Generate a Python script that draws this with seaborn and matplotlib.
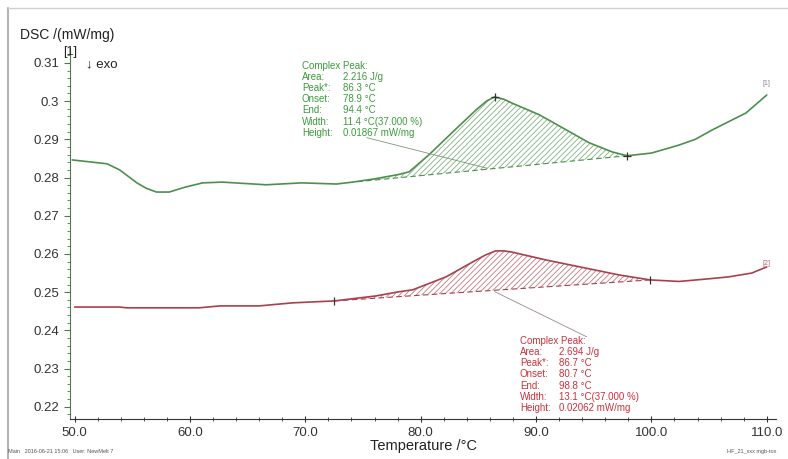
import numpy as np
import pandas as pd
import seaborn as sns
import matplotlib.pyplot as plt
from matplotlib.ticker import MultipleLocator, FuncFormatter
from matplotlib.lines import Line2D

# run [1] (green)
temp_1 = [49.8, 52.8, 53.9, 55.4, 56.2, 57.1, 58.2, 59.6, 61.1, 62.8, 66.6, 69.7,
          72.7, 74.1, 76.1, 78.1, 79.0, 80.7, 82.7, 84.8, 85.7, 86.4, 87.2, 87.9,
          90.3, 92.6, 94.6, 96.6, 97.9, 100.0, 102.4, 103.8, 105.3, 108.2, 110.0]
dsc_1 = [0.2846, 0.2836, 0.2820, 0.2786, 0.2772, 0.2762, 0.2762, 0.2775, 0.2786,
         0.2788, 0.2781, 0.2786, 0.2783, 0.2788, 0.2797, 0.2808, 0.2815, 0.2859,
         0.2917, 0.2977, 0.3000, 0.3011, 0.3005, 0.2995, 0.2964, 0.2925, 0.2891,
         0.2867, 0.2857, 0.2864, 0.2885, 0.2900, 0.2925, 0.2969, 0.3016]

# run [2] (red)
temp_2 = [50.0, 53.9, 54.5, 57.4, 60.8, 62.6, 66.0, 68.9, 72.5, 76.1, 78.1, 79.3,
          82.2, 84.5, 85.6, 86.5, 87.2, 87.9, 90.9, 94.3, 97.2, 99.9, 102.4, 105.0,
          106.7, 108.7, 110.0]
dsc_2 = [0.2461, 0.2461, 0.2459, 0.2459, 0.2459, 0.2464, 0.2464, 0.2472, 0.2477,
         0.2490, 0.2501, 0.2506, 0.2540, 0.2579, 0.2597, 0.2608, 0.2608, 0.2605,
         0.2584, 0.2563, 0.2545, 0.2532, 0.2528, 0.2535, 0.2540, 0.2550, 0.2566]

# peak baselines (start, end)
base_1 = [(74.5, 0.2789), (97.9, 0.2857)]
base_2 = [(72.5, 0.2477), (99.9, 0.2532)]
peak_1 = (86.4, 0.3011)

header = "Complex Peak:"
labels = ["Area:", "Peak*:", "Onset:", "End:", "Width:", "Height:"]
values_1 = ["2.216 J/g", "86.3 °C", "78.9 °C", "94.4 °C", "11.4 °C(37.000 %)", "0.01867 mW/mg"]
values_2 = ["2.694 J/g", "86.7 °C", "80.7 °C", "98.8 °C", "13.1 °C(37.000 %)", "0.02062 mW/mg"]

green = "#4e8f4e"
red = "#a8414d"
green_txt = "#3d9a3d"
red_txt = "#c8323c"

df = pd.concat([
    pd.DataFrame({"Temperature": temp_1, "DSC": dsc_1, "run": "1"}),
    pd.DataFrame({"Temperature": temp_2, "DSC": dsc_2, "run": "2"}),
])

sns.set_style("ticks")
plt.rcParams["font.family"] = ["Liberation Sans", "DejaVu Sans"]
plt.rcParams["hatch.linewidth"] = 0.6

fig = plt.figure(figsize=(7.88, 4.59), dpi=100)
ax = fig.add_axes([70 / 788, 40 / 459, 706 / 788, 371 / 459])

sns.lineplot(data=df, x="Temperature", y="DSC", hue="run", palette=[green, red],
             sort=False, legend=False, linewidth=1.2, ax=ax)


def fill_peak(temp, dsc, base, color):
    (x0, y0), (x1, y1) = base
    xs = [x0] + [t for t in temp if x0 < t < x1] + [x1]
    curve = np.interp(xs, temp, dsc)
    line = np.interp(xs, [x0, x1], [y0, y1])
    ax.fill_between(xs, curve, line, facecolor="none", edgecolor=color,
                    hatch="//////", linewidth=0, alpha=0.7)
    ax.plot([x0, x1], [y0, y1], color=color, lw=0.8, ls=(0, (5, 3)))


fill_peak(temp_1, dsc_1, base_1, green)
fill_peak(temp_2, dsc_2, base_2, red)

# markers at peak limits
ax.plot([peak_1[0], base_1[1][0]], [peak_1[1], base_1[1][1]], ls="none",
        marker="+", ms=6, mew=0.9, color="#333333")
ax.plot([base_2[0][0], base_2[1][0]], [base_2[0][1], base_2[1][1]], ls="none",
        marker="|", ms=6, mew=0.9, color="#333333")

# leader lines from the text boxes to the baselines
mid_1 = (base_1[0][0] + base_1[1][0]) / 2 - 0.2
mid_2 = (base_2[0][0] + base_2[1][0]) / 2
ax.annotate("", xy=(mid_1, np.interp(mid_1, [base_1[0][0], base_1[1][0]], [base_1[0][1], base_1[1][1]])),
            xytext=(75.1, 0.2906), arrowprops=dict(arrowstyle="-", color="#7a9a7a", lw=0.6))
ax.annotate("", xy=(mid_2, np.interp(mid_2, [base_2[0][0], base_2[1][0]], [base_2[0][1], base_2[1][1]])),
            xytext=(94.6, 0.2380), arrowprops=dict(arrowstyle="-", color="#9a8a8a", lw=0.6))

fs = 7
ls = 1.15
step = 7.8  # points per text line


def peak_box(x, y, dx, values, color):
    ax.text(x, y, header, color=color, fontsize=fs, va="top", ha="left")
    ax.annotate("\n".join(labels), xy=(x, y), xytext=(0, -step), textcoords="offset points",
                color=color, fontsize=fs, va="top", ha="left", linespacing=ls)
    ax.annotate("\n".join(values), xy=(x + dx, y), xytext=(0, -step), textcoords="offset points",
                color=color, fontsize=fs, va="top", ha="left", linespacing=ls)


peak_box(69.7, 0.3105, 3.6, values_1, green_txt)
peak_box(88.6, 0.2385, 3.4, values_2, red_txt)

ax.text(110.0, 0.3036, "[1]", color="#888888", fontsize=5, ha="center", va="bottom")
ax.text(110.0, 0.2566, "[2]", color="#a86a72", fontsize=5, ha="center", va="bottom")

ax.set_xlim(49.6, 110.8)
ax.set_ylim(0.2168, 0.3139)
ax.xaxis.set_major_locator(MultipleLocator(10))
ax.xaxis.set_minor_locator(MultipleLocator(2))
ax.yaxis.set_major_locator(MultipleLocator(0.01))
ax.yaxis.set_minor_locator(MultipleLocator(0.002))
ax.xaxis.set_major_formatter(FuncFormatter(lambda v, p: f"{v:.1f}"))
ax.yaxis.set_major_formatter(FuncFormatter(lambda v, p: f"{v:g}"))

for s in ["top", "right"]:
    ax.spines[s].set_visible(False)
ax.spines["left"].set_color("#4e7a4e")
ax.spines["bottom"].set_color("#333333")
ax.tick_params(axis="y", which="major", direction="out", length=4, width=0.8,
               color="#4e7a4e", labelsize=9.5, pad=4, labelcolor="#333333")
ax.tick_params(axis="y", which="minor", direction="out", length=2, width=0.6, color="#4e7a4e")
ax.tick_params(axis="x", which="major", direction="inout", length=5, width=0.8,
               color="#333333", labelsize=9.5, pad=3, labelcolor="#333333")
ax.tick_params(axis="x", which="minor", direction="inout", length=3, width=0.6, color="#333333")

ax.set_xlabel("Temperature /°C", fontsize=10.5, labelpad=0, color="#222222")
ax.set_ylabel("")

fig.text(20 / 788, 1 - 35 / 459, "DSC /(mW/mg)", fontsize=10, va="center", ha="left", color="#222222")
fig.text(70 / 788, 1 - 52 / 459, "[1]", fontsize=9, va="center", ha="center", color="#222222")
fig.text(86 / 788, 1 - 64 / 459, "↓ exo", fontsize=9.5, va="center", ha="left", color="#222222")

fig.text(8 / 788, 5 / 459, "Main   2016-06-21 15:06   User: NewMelt 7", fontsize=4,
         color="#555555", va="bottom")
fig.text(776 / 788, 5 / 459, "HF_21_xxx mgb-tox", fontsize=4, color="#555555",
         va="bottom", ha="right")

fig.add_artist(Line2D([8 / 788, 8 / 788], [0, 1 - 8 / 459], color="#b5b5b5", lw=1.5,
                      transform=fig.transFigure))
fig.add_artist(Line2D([8 / 788, 1], [1 - 8 / 459, 1 - 8 / 459], color="#d0d0d0", lw=1.0,
                      transform=fig.transFigure))

fig.savefig("out.png", dpi=100)
